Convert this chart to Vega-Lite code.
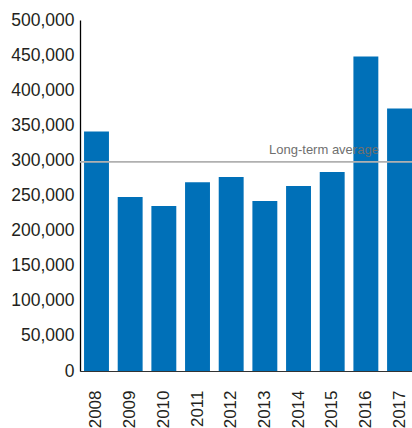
{
  "$schema": "https://vega.github.io/schema/vega-lite/v6.json",
  "autosize": "none",
  "width": 332,
  "height": 351,
  "padding": {"left": 80, "top": 20, "right": 0, "bottom": 57},
  "background": "white",
  "config": {"view": {"stroke": null}},
  "datasets": {
    "bars": [
      {"year": "2008", "value": 341000},
      {"year": "2009", "value": 248000},
      {"year": "2010", "value": 235000},
      {"year": "2011", "value": 269000},
      {"year": "2012", "value": 276500},
      {"year": "2013", "value": 242000},
      {"year": "2014", "value": 263500},
      {"year": "2015", "value": 283500},
      {"year": "2016", "value": 448000},
      {"year": "2017", "value": 374000}
    ],
    "avg": [{"label": "Long-term average", "value": 298000, "year": "2016"}]
  },
  "encoding": {
    "x": {
      "field": "year", "type": "ordinal",
      "scale": {"paddingInner": 0.26, "paddingOuter": 0.06, "align": 1},
      "axis": {
        "title": null, "labelAngle": -90, "ticks": false, "labelPadding": 19,
        "labelFontSize": 17, "labelFont": "Liberation Sans", "labelColor": "#231f20",
        "domainColor": "#333333", "domainWidth": 1
      }
    },
    "y": {
      "field": "value", "type": "quantitative",
      "scale": {"domain": [0, 500000], "nice": false},
      "axis": {
        "title": null, "values": [0, 50000, 100000, 150000, 200000, 250000, 300000, 350000, 400000, 450000, 500000],
        "format": ",.0f", "grid": false, "ticks": false, "labelPadding": 6,
        "labelFontSize": 17.5, "labelFont": "Liberation Sans", "labelColor": "#231f20",
        "domainColor": "#000000", "domainWidth": 1.3
      }
    }
  },
  "layer": [
    {
      "data": {"name": "bars"},
      "mark": {"type": "bar", "color": "#0070B8"}
    },
    {
      "data": {"name": "avg"},
      "mark": {"type": "rule", "color": "#b0b0b0", "strokeWidth": 1.7},
      "encoding": {"x": {"value": 0}, "x2": {"value": 332}}
    },
    {
      "data": {"name": "avg"},
      "mark": {"type": "text", "align": "right", "baseline": "alphabetic", "dx": 13, "dy": -8, "fontSize": 13, "font": "Liberation Sans", "color": "#6f6f6f"},
      "encoding": {
        "text": {"field": "label"}
      }
    }
  ]
}
